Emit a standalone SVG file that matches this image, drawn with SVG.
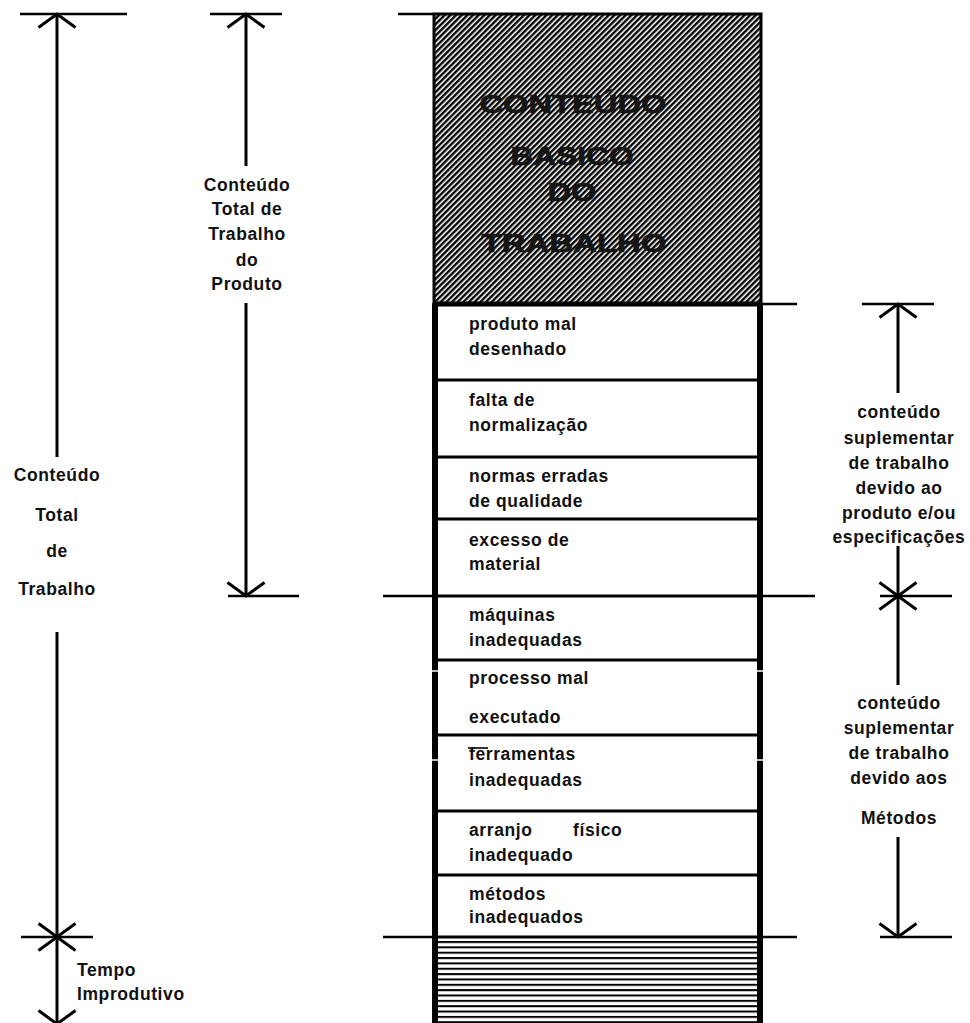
<svg xmlns="http://www.w3.org/2000/svg" width="970" height="1023" viewBox="0 0 970 1023">
  <defs>
    <!-- dense diagonal hatch for the basic work-content block -->
    <pattern id="diag" patternUnits="userSpaceOnUse" width="4" height="4" patternTransform="rotate(45)">
      <rect width="4" height="4" fill="#ffffff"/>
      <rect width="2.4" height="4" fill="#000000"/>
    </pattern>
    <!-- horizontal ruling for the unproductive-time block -->
    <pattern id="horiz" patternUnits="userSpaceOnUse" x="0" y="941" width="10" height="5.35">
      <rect width="10" height="5.35" fill="#ffffff"/>
      <rect width="10" height="2" fill="#000000"/>
    </pattern>
    <!-- open chevron arrowhead -->
    <marker id="chev" markerUnits="userSpaceOnUse" viewBox="-16 -21 18 42" refX="0" refY="0"
            markerWidth="18" markerHeight="42" orient="auto-start-reverse" overflow="visible">
      <path d="M -13.5 -18.5 L 0 0 L -13.5 18.5" fill="none" stroke="#000" stroke-width="3"/>
    </marker>
    <style>
      .lbl { font-family: "Liberation Sans", Arial, sans-serif; font-weight: bold; font-size: 17.5px; letter-spacing: 0.6px; fill: #111; }
      .mid { text-anchor: middle; }
      .big { font-family: "Liberation Sans", Arial, sans-serif; font-weight: bold; font-size: 25px; text-anchor: middle; fill: #151515; stroke: #151515; stroke-width: 0.6; }
      .dim { stroke: #000; stroke-width: 3; fill: none; }
      .ext { stroke: #000; stroke-width: 2.6; fill: none; }
      .sep { stroke: #000; stroke-width: 3; }
      .row { fill: #ffffff; }
    </style>
  </defs>

  <rect width="970" height="1023" fill="#ffffff"/>

  <!-- basic work content block -->
  <g id="basic-content">
    <rect x="434" y="14" width="327" height="289" fill="url(#diag)" stroke="#000" stroke-width="3"/>
    <text class="big" x="573" y="113" textLength="187" lengthAdjust="spacingAndGlyphs">CONTEÚDO</text>
    <text class="big" x="572" y="165" textLength="123" lengthAdjust="spacingAndGlyphs">BASICO</text>
    <text class="big" x="572" y="201" textLength="49" lengthAdjust="spacingAndGlyphs">DO</text>
    <text class="big" x="574" y="252" textLength="185" lengthAdjust="spacingAndGlyphs">TRABALHO</text>
  </g>

  <!-- supplementary content rows -->
  <g id="row-produto">
    <rect class="row" x="435" y="305" width="325" height="75"/>
    <text class="lbl" x="469" y="330">produto mal</text>
    <text class="lbl" x="469" y="355">desenhado</text>
  </g>
  <g id="row-normalizacao">
    <rect class="row" x="435" y="380" width="325" height="77"/>
    <text class="lbl" x="469" y="406">falta de</text>
    <text class="lbl" x="469" y="431">normalização</text>
  </g>
  <g id="row-qualidade">
    <rect class="row" x="435" y="457" width="325" height="62"/>
    <text class="lbl" x="469" y="482">normas erradas</text>
    <text class="lbl" x="469" y="507">de qualidade</text>
  </g>
  <g id="row-material">
    <rect class="row" x="435" y="519" width="325" height="77"/>
    <text class="lbl" x="469" y="546">excesso de</text>
    <text class="lbl" x="469" y="570">material</text>
  </g>
  <g id="row-maquinas">
    <rect class="row" x="435" y="596" width="325" height="64"/>
    <text class="lbl" x="469" y="621">máquinas</text>
    <text class="lbl" x="469" y="646">inadequadas</text>
  </g>
  <g id="row-processo">
    <rect class="row" x="435" y="660" width="325" height="75"/>
    <text class="lbl" x="469" y="684">processo mal</text>
    <text class="lbl" x="469" y="723">executado</text>
  </g>
  <g id="row-ferramentas">
    <rect class="row" x="435" y="735" width="325" height="76"/>
    <line x1="468" y1="748" x2="488" y2="748" stroke="#000" stroke-width="1.6"/>
    <text class="lbl" x="469" y="760">ferramentas</text>
    <text class="lbl" x="469" y="786">inadequadas</text>
  </g>
  <g id="row-arranjo">
    <rect class="row" x="435" y="811" width="325" height="64"/>
    <text class="lbl" x="469" y="836">arranjo</text>
    <text class="lbl" x="573" y="836">físico</text>
    <text class="lbl" x="469" y="861">inadequado</text>
  </g>
  <g id="row-metodos">
    <rect class="row" x="435" y="875" width="325" height="62"/>
    <text class="lbl" x="469" y="900">métodos</text>
    <text class="lbl" x="469" y="923">inadequados</text>
  </g>

  <!-- unproductive time block -->
  <g id="unproductive">
    <rect x="438" y="939" width="319" height="90" fill="url(#horiz)"/>
  </g>

  <!-- column frame: row separators and thick side borders -->
  <g id="frame">
    <line class="sep" x1="435" y1="305" x2="760" y2="305" stroke-width="4"/>
    <line class="sep" x1="435" y1="380" x2="760" y2="380"/>
    <line class="sep" x1="435" y1="457" x2="760" y2="457"/>
    <line class="sep" x1="435" y1="519" x2="760" y2="519"/>
    <line class="sep" x1="435" y1="596" x2="760" y2="596"/>
    <line class="sep" x1="435" y1="660" x2="760" y2="660"/>
    <line class="sep" x1="435" y1="735" x2="760" y2="735"/>
    <line class="sep" x1="435" y1="811" x2="760" y2="811"/>
    <line class="sep" x1="435" y1="875" x2="760" y2="875"/>
    <line class="sep" x1="435" y1="937" x2="760" y2="937" stroke-width="4"/>
    <line x1="435" y1="303" x2="435" y2="1023" stroke="#000" stroke-width="6"/>
    <line x1="760" y1="303" x2="760" y2="1023" stroke="#000" stroke-width="6"/>
    <!-- small breaks in the borders -->
    <g stroke="#ffffff" stroke-width="1.5">
      <line x1="431" y1="671" x2="438" y2="671"/>
      <line x1="757" y1="671" x2="764" y2="671"/>
      <line x1="431" y1="760" x2="438" y2="760"/>
      <line x1="757" y1="760" x2="764" y2="760"/>
    </g>
  </g>

  <!-- dimension lines, extension lines and arrowheads -->
  <g id="connectors">
    <!-- extension lines -->
    <line class="ext" x1="20" y1="14" x2="127" y2="14"/>
    <line class="ext" x1="210" y1="14" x2="282" y2="14"/>
    <line class="ext" x1="398" y1="14" x2="434" y2="14"/>
    <line class="ext" x1="761" y1="304" x2="797" y2="304"/>
    <line class="ext" x1="862" y1="304" x2="934" y2="304"/>
    <line class="ext" x1="228" y1="596" x2="299" y2="596"/>
    <line class="ext" x1="383" y1="596" x2="434" y2="596"/>
    <line class="ext" x1="761" y1="596" x2="815" y2="596"/>
    <line class="ext" x1="880" y1="596" x2="952" y2="596"/>
    <line class="ext" x1="21" y1="937" x2="93" y2="937"/>
    <line class="ext" x1="383" y1="937" x2="434" y2="937"/>
    <line class="ext" x1="761" y1="937" x2="797" y2="937"/>
    <line class="ext" x1="880" y1="937" x2="952" y2="937"/>

    <!-- total work content -->
    <line class="dim" x1="57" y1="14" x2="57" y2="457" marker-start="url(#chev)"/>
    <line class="dim" x1="57" y1="632" x2="57" y2="937" marker-end="url(#chev)"/>
    <!-- unproductive time -->
    <line class="dim" x1="57" y1="937" x2="57" y2="1024" marker-start="url(#chev)" marker-end="url(#chev)"/>
    <!-- total work content of the product -->
    <line class="dim" x1="246" y1="14" x2="246" y2="166" marker-start="url(#chev)"/>
    <line class="dim" x1="246" y1="303" x2="246" y2="596" marker-end="url(#chev)"/>
    <!-- supplementary content due to product -->
    <line class="dim" x1="898" y1="304" x2="898" y2="393" marker-start="url(#chev)"/>
    <line class="dim" x1="898" y1="546" x2="898" y2="596" marker-end="url(#chev)"/>
    <!-- supplementary content due to methods -->
    <line class="dim" x1="898" y1="596" x2="898" y2="685" marker-start="url(#chev)"/>
    <line class="dim" x1="898" y1="837" x2="898" y2="937" marker-end="url(#chev)"/>
  </g>

  <!-- dimension labels -->
  <g id="label-total">
    <text class="lbl mid" x="57" y="481">Conteúdo</text>
    <text class="lbl mid" x="57" y="521">Total</text>
    <text class="lbl mid" x="57" y="557">de</text>
    <text class="lbl mid" x="57" y="595">Trabalho</text>
  </g>
  <g id="label-improdutivo">
    <text class="lbl" x="77" y="976">Tempo</text>
    <text class="lbl" x="77" y="1000">Improdutivo</text>
  </g>
  <g id="label-produto">
    <text class="lbl mid" x="247" y="191">Conteúdo</text>
    <text class="lbl mid" x="247" y="215">Total de</text>
    <text class="lbl mid" x="247" y="240">Trabalho</text>
    <text class="lbl mid" x="247" y="266">do</text>
    <text class="lbl mid" x="247" y="290">Produto</text>
  </g>
  <g id="label-suplementar-produto">
    <text class="lbl mid" x="899" y="418">conteúdo</text>
    <text class="lbl mid" x="899" y="444">suplementar</text>
    <text class="lbl mid" x="899" y="469">de trabalho</text>
    <text class="lbl mid" x="899" y="494">devido ao</text>
    <text class="lbl mid" x="899" y="519">produto e/ou</text>
    <text class="lbl mid" x="899" y="543">especificações</text>
  </g>
  <g id="label-suplementar-metodos">
    <text class="lbl mid" x="899" y="709">conteúdo</text>
    <text class="lbl mid" x="899" y="734">suplementar</text>
    <text class="lbl mid" x="899" y="759">de trabalho</text>
    <text class="lbl mid" x="899" y="784">devido aos</text>
    <text class="lbl mid" x="899" y="824">Métodos</text>
  </g>
</svg>
